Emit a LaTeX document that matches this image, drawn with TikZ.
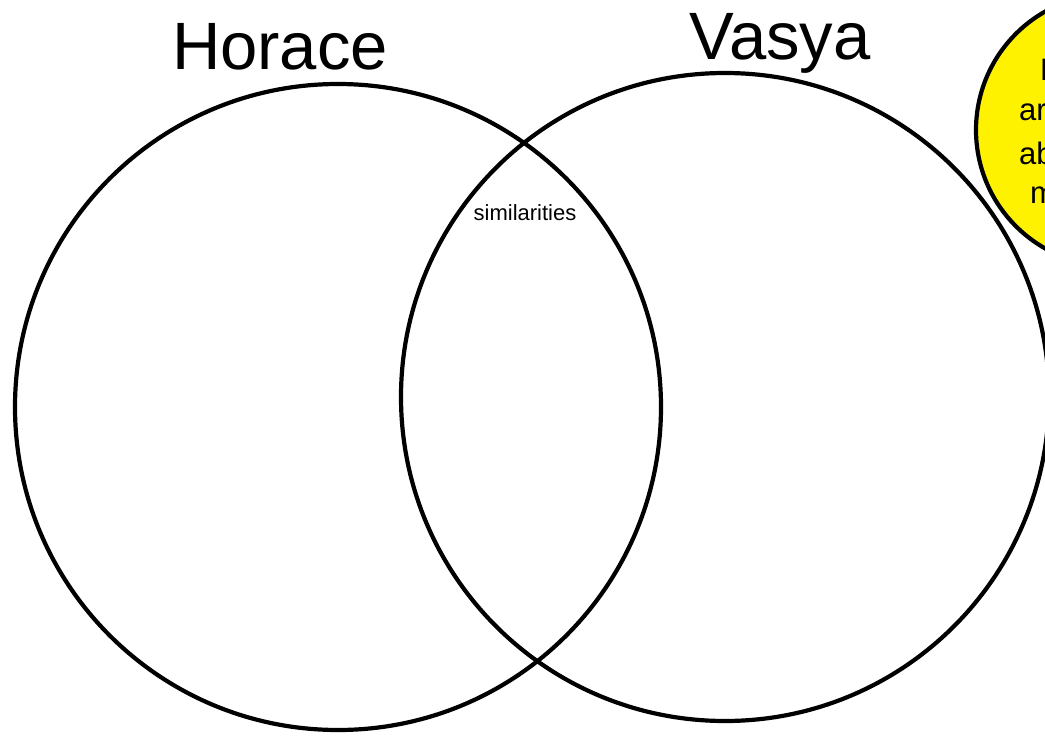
\documentclass[tikz,border=0pt]{standalone}
\usepackage{fontspec}
\setmainfont{Liberation Sans}
\begin{document}
\begin{tikzpicture}[x=1pt,y=-1pt,
  ring/.style={draw=black,line width=4.2pt,circle,inner sep=0pt},
  title/.style={font=\fontsize{67}{70}\selectfont,inner sep=0pt},
  note/.style={font=\fontsize{31}{36}\selectfont,inner sep=0pt,anchor=west}]
\useasboundingbox (0,0) rectangle (1045,736);
\clip (0,0) rectangle (1045,736);
\node[ring,minimum size=646pt] (horace) at (338,407) {};
\node[ring,minimum size=648pt] (vasya) at (725,397) {};
\node[ring,fill=yellow,minimum size=272pt] (tip) at (1112,130) {};
\node[title] (th) at (280,47) {Horace};
\node[title] (tv) at (780,43) {Vasya};
\node[font=\fontsize{22}{26}\selectfont,inner sep=0pt] (sim) at (525,213) {similarities};
\node[note] (n1) at (1040,70) {L};
\node[note] (n2) at (1019,112) {ar};
\node[note] (n3) at (1019,153) {ab};
\node[note] (n4) at (1030,195) {m};
\end{tikzpicture}
\end{document}
